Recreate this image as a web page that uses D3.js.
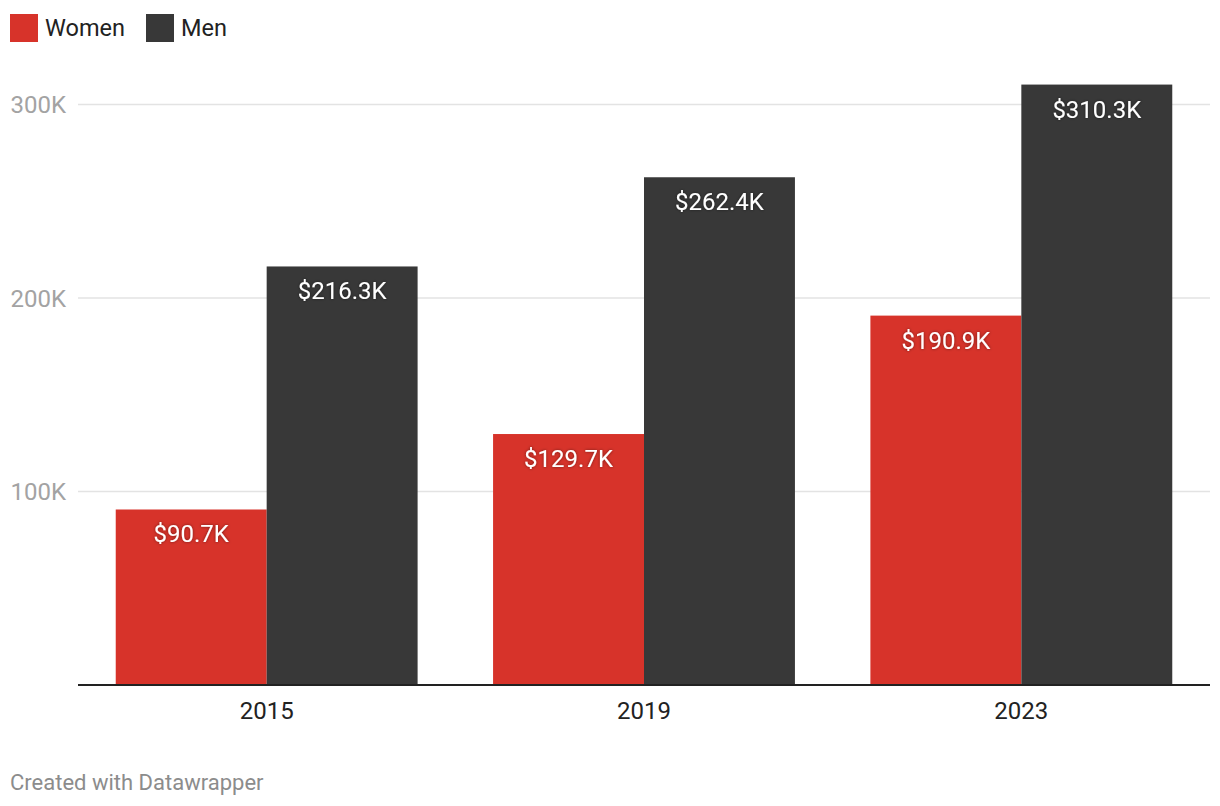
<!DOCTYPE html>
<html>
<head>
<meta charset="utf-8">
<script src="https://cdn.jsdelivr.net/npm/d3@7"></script>
<style>
  body { margin: 0; background: #fff; font-family: Roboto, "Noto Sans", sans-serif; }
  svg { display: block; }
</style>
</head>
<body>
<div id="chart"></div>
<script>
const years = ["2015", "2019", "2023"];
const seriesNames = ["Women", "Men"];
const women = [90.7, 129.7, 190.9];
const men = [216.3, 262.4, 310.3];
const yTicks = [100, 200, 300];
const colors = ["#d7332a", "#383838"];

const width = 1220, height = 806;
const margin = {top: 0, left: 78, right: 10};
const baseY = 685;

let svg = d3.select("#chart").append("svg")
    .attr("width", width)
    .attr("height", height);

// legend
let legend = svg.append("g");
let lx = [10, 146];
seriesNames.forEach((name, i) => {
    legend.append("rect")
        .attr("x", lx[i]).attr("y", 14)
        .attr("width", 28).attr("height", 28)
        .attr("fill", colors[i]);
    legend.append("text")
        .attr("x", lx[i] + 35).attr("y", 36)
        .attr("font-size", 23.5)
        .attr("fill", "#222")
        .text(name);
});

let x = d3.scaleBand()
    .domain(years)
    .range([margin.left, width - margin.right])
    .paddingInner(0.2)
    .paddingOuter(0.1);

let x1 = d3.scaleBand()
    .domain(seriesNames)
    .range([0, x.bandwidth()]);

let y = d3.scaleLinear()
    .domain([0, 100])
    .range([baseY, 491.5]);

// gridlines
let grid = svg.append("g");
yTicks.forEach(t => {
    grid.append("line")
        .attr("x1", margin.left).attr("x2", width - margin.right)
        .attr("y1", y(t)).attr("y2", y(t))
        .attr("stroke", "#e3e3e3").attr("stroke-width", 1.5);
    grid.append("text")
        .attr("x", 66).attr("y", y(t) + 8.5)
        .attr("text-anchor", "end")
        .attr("font-size", 24)
        .attr("fill", "#a3a3a3")
        .text(t + "K");
});

let data = years.map((yr, i) => ({year: yr, vals: [women[i], men[i]]}));

let groups = svg.append("g")
    .selectAll("g")
    .data(data)
    .join("g")
    .attr("transform", d => `translate(${x(d.year)},0)`);

groups.selectAll("rect")
    .data(d => d.vals.map((v, i) => ({name: seriesNames[i], v: v, i: i})))
    .join("rect")
    .attr("x", d => x1(d.name))
    .attr("width", x1.bandwidth())
    .attr("y", d => y(d.v))
    .attr("height", d => baseY - y(d.v))
    .attr("fill", d => colors[d.i]);

// drop shadow for labels
let defs = svg.append("defs");
let f = defs.append("filter").attr("id", "shadow").attr("x", "-20%").attr("y", "-50%").attr("width", "140%").attr("height", "200%");
f.append("feDropShadow").attr("dx", 0).attr("dy", 0).attr("stdDeviation", 1.5)
    .attr("flood-color", "#000").attr("flood-opacity", 0.5);

groups.selectAll("text.val")
    .data(d => d.vals.map((v, i) => ({name: seriesNames[i], v: v, i: i})))
    .join("text")
    .attr("class", "val")
    .attr("x", d => x1(d.name) + x1.bandwidth() / 2)
    .attr("y", d => y(d.v) + 33)
    .attr("text-anchor", "middle")
    .attr("font-size", 24)
    .attr("fill", "#fff")
    .attr("filter", "url(#shadow)")
    .text(d => "$" + d.v.toFixed(1) + "K");

// baseline
svg.append("line")
    .attr("x1", margin.left).attr("x2", width - margin.right)
    .attr("y1", baseY).attr("y2", baseY)
    .attr("stroke", "#222").attr("stroke-width", 2);

// x labels
svg.append("g")
    .selectAll("text")
    .data(years)
    .join("text")
    .attr("x", d => x(d) + x.bandwidth() / 2)
    .attr("y", 719)
    .attr("text-anchor", "middle")
    .attr("font-size", 24)
    .attr("fill", "#222")
    .text(d => d);

svg.append("text")
    .attr("x", 10).attr("y", 790)
    .attr("font-size", 22)
    .attr("fill", "#8c8c8c")
    .text("Created with Datawrapper");
</script>
</body>
</html>
